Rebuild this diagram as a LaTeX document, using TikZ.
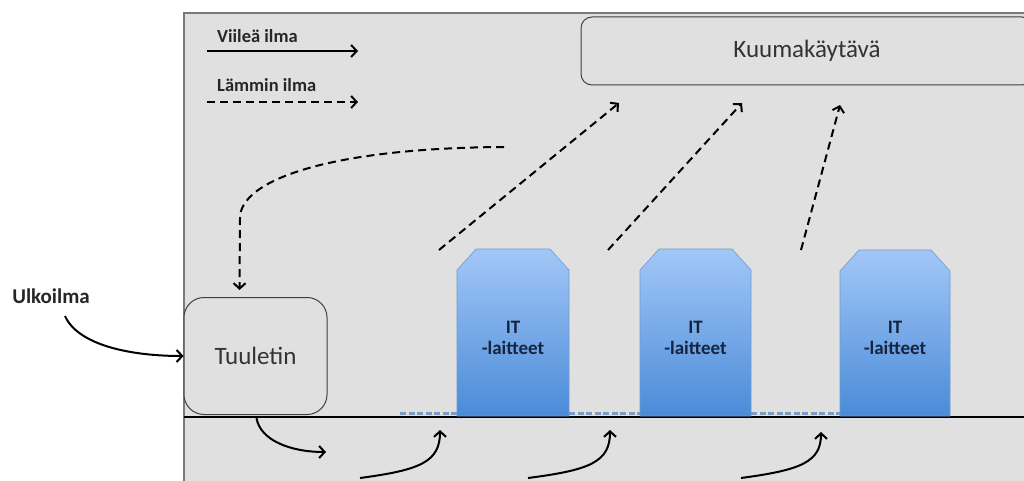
\documentclass[tikz,border=0pt]{standalone}
\usepackage{fontspec}
\setmainfont{Carlito}
\usetikzlibrary{arrows.meta,calc}
\definecolor{bggray}{HTML}{E0E0E0}
\definecolor{frame}{HTML}{7A7A7A}
\definecolor{itTop}{HTML}{A2C7F7}
\definecolor{itBot}{HTML}{4A8BD8}
\definecolor{itEdge}{HTML}{6E9BD0}
\definecolor{ittext}{HTML}{16243F}
\definecolor{boxtext}{HTML}{333333}
\definecolor{floordash}{HTML}{7D9CC4}
\newcommand\itrack[4]{%
  \shade[top color=itTop,bottom color=itBot,draw=itEdge,line width=0.6pt]
    (#1,416) -- (#1,#3+21) -- (#1+19,#3) -- (#2-19,#3) -- (#2,#3+21) -- (#2,416) -- cycle;
  \node[ittext,font=\bfseries\fontsize{19}{21}\selectfont,align=center] (#4) at ({(#1+#2)/2},338) {IT\\-laitteet};
}
\begin{document}
\begin{tikzpicture}[x=1pt,y=-1pt,
  cool/.style={line width=2pt,-{Straight Barb[length=5.5pt,width=12pt]}},
  warm/.style={cool,dash pattern=on 8pt off 5pt},
  roundbox/.style={draw=black!75,line width=1pt,fill=bggray,rounded corners=#1},
  legendtext/.style={font=\bfseries\fontsize{18.5}{21}\selectfont,text=black!85,anchor=west,inner sep=0pt},
  floorvent/.style={floordash,line width=3pt,dash pattern=on 6pt off 2.5pt},
]
\useasboundingbox (0,0) rectangle (1024,481);
\clip (0,0) rectangle (1024,481);
\fill[white] (0,0) rectangle (1024,481);
% background
\draw[fill=bggray,draw=frame,line width=1.5pt] (184,13) rectangle (1060,500);
% floor
\draw[line width=1.6pt] (184,417) -- (1030,417);
\draw[floorvent] (400,413) -- (457,413);
\draw[floorvent] (569,413) -- (640,413);
\draw[floorvent] (751,413) -- (840,413);
% legend
\node[legendtext] (lv) at (217,36) {Viileä ilma};
\node[legendtext] (lw) at (217,85) {Lämmin ilma};
\coordinate (lv1) at (207,51); \coordinate (lv2) at (358,51);
\coordinate (lw1) at (207,102); \coordinate (lw2) at (358,102);
\draw[cool] (lv1) -- (lv2);
\draw[warm] (lw1) -- (lw2);
% boxes
\node[roundbox=11pt,minimum width=452pt,minimum height=68pt,inner sep=0pt,text=boxtext,font=\fontsize{25}{28}\selectfont] (hot) at (807,51) {Kuumakäytävä};
\node[roundbox=20pt,minimum width=143pt,minimum height=117pt,inner sep=0pt,text=boxtext,font=\fontsize{25}{28}\selectfont] (tuul) at (255.5,356) {Tuuletin};
\itrack{457}{569}{249}{it1}
\itrack{640}{751}{249}{it2}
\itrack{840}{950}{250}{it3}
% outside air
\node[font=\bfseries\fontsize{21}{24}\selectfont,text=black!85] (ulk) at (51,296) {Ulkoilma};
\coordinate (u0) at (65,316);
\draw[cool] (u0) .. controls (78,345) and (130,356) .. (tuul.west);
% return warm air
\coordinate (r0) at (504,147);
\coordinate (r1) at (240,218);
\coordinate (r2) at ($(tuul.north)+(-16,-7)$);
\draw[warm] (r0) .. controls (330,148) and (240,180) .. (r1) -- (r2);
% warm air to hot aisle
\coordinate (a1) at (439,250); \coordinate (b1) at (619,103);
\coordinate (a2) at (608,250); \coordinate (b2) at (742,103);
\coordinate (a3) at (801,250); \coordinate (b3) at (840,105);
\draw[warm] (a1) -- (b1);
\draw[warm] (a2) -- (b2);
\draw[warm] (a3) -- (b3);
% cool air under floor
\coordinate (f1) at (326,452);
\draw[cool] ($(tuul.south)+(1,3)$) .. controls (260,440) and (290,452) .. (f1);
\coordinate (s1) at (360,478); \coordinate (t1) at (440,430);
\coordinate (s2) at (528,478); \coordinate (t2) at (610,430);
\coordinate (s3) at (741,478); \coordinate (t3) at (821,432);
\draw[cool] (s1) .. controls (420,470) and (440,462) .. (t1);
\draw[cool] (s2) .. controls (590,470) and (610,462) .. (t2);
\draw[cool] (s3) .. controls (801,470) and (821,462) .. (t3);
\end{tikzpicture}
\end{document}
